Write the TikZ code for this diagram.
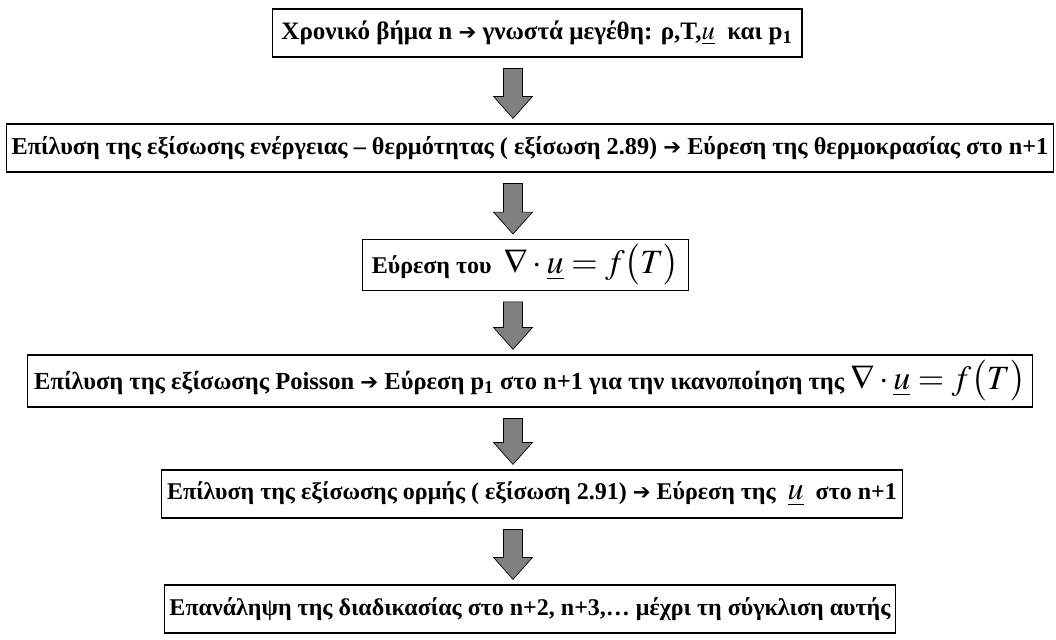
\documentclass[tikz,border=0pt]{standalone}
\usepackage{mathptmx}
\usepackage{fontspec}
\setmainfont{Liberation Serif}
\newfontfamily\arrowfont{DejaVu Sans}
\usetikzlibrary{calc}

\newcommand{\ra}{{\arrowfont\fontsize{16}{18}\selectfont\char"2794}}
\newcommand{\divu}{\fontsize{25.5}{27}\selectfont$\nabla\cdot\underline{u}=f\bigl(T\bigr)$}

\tikzset{
  stepbox/.style={draw=black, line width=0.9pt, fill=white, inner xsep=4pt,
    inner ysep=2pt, minimum height=36pt, font=\bfseries\fontsize{#1}{#1}\selectfont},
  stepbox/.default=18,
  flowarrow/.style={draw=black, line width=0.5pt, fill=black!50}
}

% gray block arrow from box #1 down to box #2
\newcommand{\stepdown}[2]{%
  \draw[flowarrow] let \p1=(#1.south -| ax), \p2=(#2.north -| ax) in
    (\x1-7.1pt,\y1-8.2pt) -- (\x1+7.1pt,\y1-8.2pt) -- (\x1+7.1pt,\y2+20.2pt)
    -- (\x1+14.6pt,\y2+20.2pt) -- (\x1,\y2+3.8pt) -- (\x1-14.6pt,\y2+20.2pt)
    -- (\x1-7.1pt,\y2+20.2pt) -- cycle;}

\begin{document}
\begin{tikzpicture}[x=0.75pt, y=-0.75pt]
    \useasboundingbox (0,0) rectangle (1056,639);
    \coordinate (ax) at (513,0);

    % Steps
    \node[stepbox=18.8, inner xsep=7pt] (known) at (537,33) {Χρονικό βήμα n \ra\ γνωστά μεγέθη: ρ,T,{\fontsize{20}{22}\selectfont$\underline{u}$}\ \ και p\textsubscript{1}};
    \node[stepbox=18.2] (energy) at (530,148) {Επίλυση της εξίσωσης ενέργειας – θερμότητας ( εξίσωση 2.89) \ra\ Εύρεση της θερμοκρασίας στο n+1};
    \node[stepbox, inner xsep=7pt, minimum height=38pt] (divergence) at (525.5,265) {Εύρεση του \ \divu};
    \node[stepbox=18.4, inner xsep=5pt, minimum height=39pt] (poisson) at (530,381) {Επίλυση της εξίσωσης Poisson \ra\ Εύρεση p\textsubscript{1} στο n+1 για την ικανοποίηση της \divu};
    \node[stepbox] (momentum) at (532,494) {Επίλυση της εξίσωσης ορμής ( εξίσωση 2.91) \ra\ Εύρεση της \ {\fontsize{24}{26}\selectfont$\underline{u}$}\ \ στο n+1};
    \node[stepbox] (repeat) at (530,609) {Επανάληψη της διαδικασίας στο n+2, n+3,… μέχρι τη σύγκλιση αυτής};

    % Arrows
    \stepdown{known}{energy}
    \stepdown{energy}{divergence}
    \stepdown{divergence}{poisson}
    \stepdown{poisson}{momentum}
    \stepdown{momentum}{repeat}
\end{tikzpicture}
\end{document}
